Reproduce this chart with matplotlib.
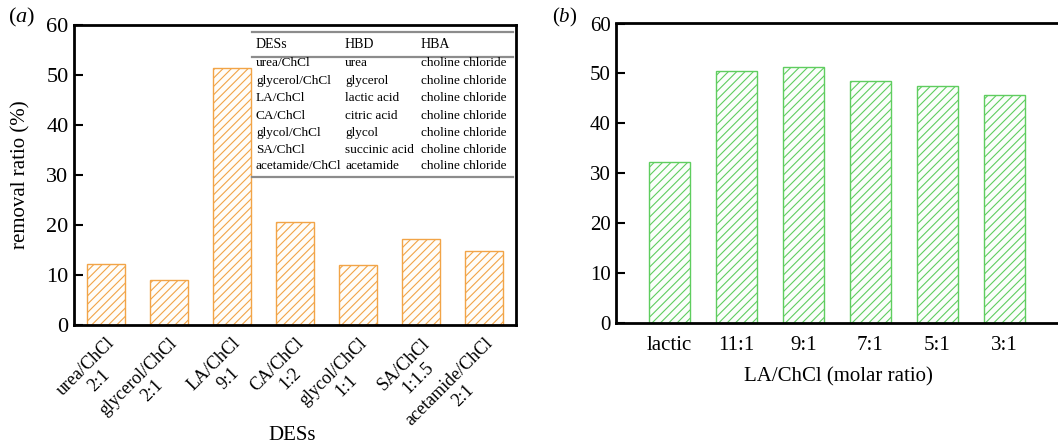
import matplotlib
matplotlib.use('Agg')
from matplotlib import pyplot as plt

plt.rcParams['font.family'] = ['Liberation Serif', 'DejaVu Serif']
plt.rcParams['mathtext.fontset'] = 'custom'
plt.rcParams['mathtext.rm'] = 'Liberation Serif'
plt.rcParams['mathtext.it'] = 'Liberation Serif:italic'
plt.rcParams['hatch.linewidth'] = 0.8

des_names = ['urea/ChCl\n2:1', 'glycerol/ChCl\n2:1', 'LA/ChCl\n9:1', 'CA/ChCl\n1:2',
             'glycol/ChCl\n1:1', 'SA/ChCl\n1:1.5', 'acetamide/ChCl\n2:1']
removal_a = [12.2, 9.0, 51.4, 20.7, 12.1, 17.2, 14.8]

ratio_labels = ['lactic', '11:1', '9:1', '7:1', '5:1', '3:1']
removal_b = [32.3, 50.4, 51.3, 48.5, 47.4, 45.7]

table_head = ['DESs', 'HBD', 'HBA']
table_des = ['urea/ChCl', 'glycerol/ChCl', 'LA/ChCl', 'CA/ChCl', 'glycol/ChCl',
             'SA/ChCl', 'acetamide/ChCl']
table_hbd = ['urea', 'glycerol', 'lactic acid', 'citric acid', 'glycol',
             'succinic acid', 'acetamide']
table_hba = ['choline chloride'] * 7

orange = '#F2A447'
green = '#5FCD5F'

fig = plt.figure(figsize=(10.58, 4.44), dpi=100)
W, H = 1058, 444

# panel (a)
ax1 = fig.add_axes([74 / W, 1 - 325 / H, (516 - 74) / W, (325 - 25) / H])
x1 = range(len(removal_a))
ax1.bar(x1, removal_a, width=0.6, facecolor='#FFFDF9', edgecolor=orange,
        hatch='////', linewidth=1.0)
ax1.set_xlim(-0.5, 6.5)
ax1.set_ylim(0, 60)
ax1.set_yticks(range(0, 61, 10))
ax1.set_xticks(list(x1))
ax1.set_xticklabels(des_names, rotation=45, ha='right', va='top',
                    rotation_mode='anchor', fontsize=13, multialignment='center')
ax1.tick_params(axis='y', labelsize=16, direction='in', length=6.5, width=1.5, pad=4)
ax1.tick_params(axis='x', length=0, pad=7)
for s in ax1.spines.values():
    s.set_linewidth(2)
ax1.set_ylabel('removal ratio (%)', fontsize=15)
ax1.yaxis.set_label_coords(-(74 - 30) / 442, 0.5)
ax1.set_xlabel('DESs', fontsize=15, va='center')
ax1.xaxis.set_label_coords((292 - 74) / 442, -(435 - 325) / 300)

# inset table
tx = [256, 345, 421]
lines_y = [32, 57, 177]
for yy in lines_y:
    ax1.plot([(252 - 74) / 442, (513 - 74) / 442], [1 - (yy - 25) / 300] * 2,
             transform=ax1.transAxes, color='#8C8C8C', lw=1.6, clip_on=False)
for j, h in enumerate(table_head):
    ax1.text((tx[j] - 74) / 442, 1 - (44 - 25) / 300, h, transform=ax1.transAxes,
             fontsize=10, va='center', ha='left')
row_y = [63, 81, 98, 115.5, 133, 150, 166]
for i in range(len(table_des)):
    yy = 1 - (row_y[i] - 25) / 300
    ax1.text((tx[0] - 74) / 442, yy, table_des[i], transform=ax1.transAxes,
             fontsize=9.5, va='center', ha='left')
    ax1.text((tx[1] - 74) / 442, yy, table_hbd[i], transform=ax1.transAxes,
             fontsize=9.5, va='center', ha='left')
    ax1.text((tx[2] - 74) / 442, yy, table_hba[i], transform=ax1.transAxes,
             fontsize=9.5, va='center', ha='left')

fig.text(8 / W, 1 - 17 / H, r'$(\mathit{a})$', fontsize=16, va='center', ha='left')
fig.text(552 / W, 1 - 17 / H, r'$(\mathit{b})$', fontsize=15, va='center', ha='left')

# panel (b)
ax2 = fig.add_axes([616 / W, 1 - 323 / H, (1060 - 616) / W, (323 - 23.5) / H])
x2 = range(len(removal_b))
ax2.bar(x2, removal_b, width=0.62, facecolor='#FBFEFB', edgecolor=green,
        hatch='////', linewidth=1.0)
ax2.set_xlim(-0.8, 5.83)
ax2.set_ylim(0, 60)
ax2.set_yticks(range(0, 61, 10))
ax2.set_xticks(list(x2))
ax2.set_xticklabels(ratio_labels, fontsize=15)
ax2.tick_params(axis='y', labelsize=15, direction='in', length=6.5, width=1.5, pad=4)
ax2.tick_params(axis='x', length=0, pad=9)
for s in ax2.spines.values():
    s.set_linewidth(2)
ax2.spines['right'].set_visible(False)
ax2.set_xlabel('LA/ChCl (molar ratio)', fontsize=15, labelpad=9)

plt.savefig('out.png', dpi=100)
